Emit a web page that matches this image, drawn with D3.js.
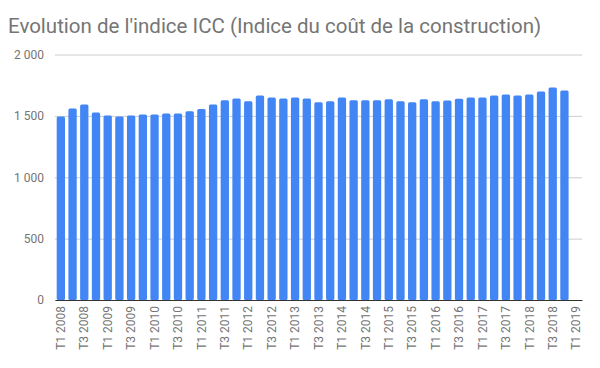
<!DOCTYPE html>
<html><head><meta charset="utf-8">
<script src="https://cdn.jsdelivr.net/npm/d3@7"></script>
<style>body{margin:0;background:#fff}svg{display:block}</style>
</head><body>
<script>
const title = "Evolution de l'indice ICC (Indice du coût de la construction)";
const years = [2008,2009,2010,2011,2012,2013,2014,2015,2016,2017,2018,2019];
const quarters = [];
years.forEach(y => { for (let q = 1; q <= 4; q++) { if (y < 2019 || q === 1) quarters.push("T" + q + " " + y); } });
const values = [1495,1560,1592,1527,1503,1495,1503,1511,1511,1520,1519,1538,
  1555,1593,1628,1642,1620,1666,1650,1642,1650,1642,1612,1620,1650,1628,1628,
  1628,1636,1620,1612,1636,1620,1625,1639,1650,1650,1666,1674,1666,1674,1698,
  1731,1707,null];
const yTicks = [0,500,1000,1500,2000];

const W = 600, H = 368;
const svg = d3.select("body").append("svg").attr("width", W).attr("height", H);
const x = d3.scaleBand().domain(quarters).range([55, 582]).paddingInner(0.29).paddingOuter(0.145);
const y = d3.scaleLinear().domain([0, 2000]).range([300, 54.5]);
const fmt = v => d3.format(",")(v).replace(/,/g, " ");

svg.append("text").attr("x", 8).attr("y", 33).attr("font-family", "Roboto, Arial, sans-serif")
  .attr("font-size", 20.5).attr("fill", "#757575").text(title);

const ya = svg.append("g").attr("transform", "translate(55,0)")
  .call(d3.axisLeft(y).tickValues(yTicks).tickSize(-527).tickFormat(fmt));
ya.select(".domain").remove();
ya.selectAll("line").attr("stroke", "#cccccc");
ya.selectAll("text").attr("x", -11).attr("font-family", "Roboto, Arial, sans-serif").attr("font-size", 12).attr("fill", "#757575");

const data = quarters.map((q, i) => ({q, v: values[i]})).filter(d => d.v != null);
svg.append("g").selectAll("rect").data(data).join("rect")
  .attr("x", d => x(d.q)).attr("width", x.bandwidth())
  .attr("y", d => y(d.v)).attr("height", d => y(0) - y(d.v))
  .attr("rx", 1.5).attr("fill", "#4285F4");

const xa = svg.append("g").attr("transform", "translate(0,300)")
  .call(d3.axisBottom(x).tickValues(quarters.filter((q, i) => i % 2 === 0)).tickSize(0));
xa.select(".domain").attr("stroke", "#333333");
xa.selectAll("text").attr("transform", "rotate(-90)").attr("text-anchor", "end")
  .attr("x", -6).attr("y", 0).attr("dy", "0.35em")
  .attr("font-family", "Roboto, Arial, sans-serif").attr("font-size", 12).attr("fill", "#757575");
</script>
</body></html>
